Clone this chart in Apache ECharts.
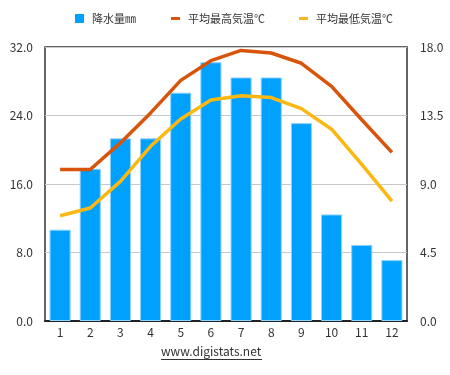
<!DOCTYPE html>
<html>
<head>
<meta charset="utf-8">
<script src="https://cdn.jsdelivr.net/npm/echarts@6/dist/echarts.min.js"></script>
<style>
html,body{margin:0;padding:0;background:#fff;}
#chart{width:450px;height:375px;}
</style>
</head>
<body>
<div id="chart"></div>
<script>
const months = ['1','2','3','4','5','6','7','8','9','10','11','12'];
const precipitation = [6.0, 10.0, 12.0, 12.0, 15.0, 17.0, 16.0, 16.0, 13.0, 7.0, 5.0, 4.0];
const maxTemp = [17.7, 17.7, 20.8, 24.3, 28.1, 30.4, 31.6, 31.3, 30.1, 27.4, 23.5, 19.7];
const minTemp = [12.3, 13.2, 16.3, 20.4, 23.6, 25.8, 26.3, 26.1, 24.8, 22.4, 18.3, 14.0];
const seriesNames = ['降水量㎜', '平均最高気温℃', '平均最低気温℃'];
const leftTicks = {min: 0, max: 32, interval: 8};
const rightTicks = {min: 0, max: 18, interval: 4.5};

const FONT = '"Noto Sans CJK JP", "Noto Sans", sans-serif';
const legendText = {fontSize: 11, color: '#333', fontFamily: FONT, padding: [0, 0, 0, 3]};
const chart = echarts.init(document.getElementById('chart'), null, {renderer: 'canvas'});
chart.setOption({
  animation: false,
  backgroundColor: '#ffffff',
  textStyle: {fontFamily: FONT},
  legend: [
    {
      top: 8, left: 70, itemWidth: 9, itemHeight: 9,
      textStyle: legendText,
      data: [{name: seriesNames[0], icon: 'rect', itemStyle: {borderWidth: 0, color: '#00a0ff'}}]
    },
    {
      top: 8, left: 166, itemWidth: 9, itemHeight: 3,
      textStyle: legendText,
      data: [{name: seriesNames[1], icon: 'rect', itemStyle: {borderWidth: 0, color: '#d9540b'}}]
    },
    {
      top: 8, left: 294, itemWidth: 9, itemHeight: 3,
      textStyle: legendText,
      data: [{name: seriesNames[2], icon: 'rect', itemStyle: {borderWidth: 0, color: '#fbb813'}}]
    }
  ],
  grid: {
    left: 45, right: 43, top: 47, bottom: 54,
    show: true, borderColor: '#333', borderWidth: 1.5, backgroundColor: 'transparent'
  },
  xAxis: {
    type: 'category',
    data: months,
    boundaryGap: true,
    axisLine: {show: true, lineStyle: {color: '#222', width: 2}},
    axisTick: {show: false},
    axisLabel: {color: '#333', fontSize: 12, margin: 5, fontFamily: FONT}
  },
  yAxis: [
    {
      type: 'value', min: leftTicks.min, max: leftTicks.max, interval: leftTicks.interval,
      axisLine: {show: false}, axisTick: {show: false},
      axisLabel: {color: '#333', fontSize: 12, margin: 12, fontFamily: FONT,
        formatter: v => v.toFixed(1)},
      splitLine: {show: true, lineStyle: {color: '#c8c8c8', width: 1}}
    },
    {
      type: 'value', min: rightTicks.min, max: rightTicks.max, interval: rightTicks.interval,
      position: 'right',
      axisLine: {show: false}, axisTick: {show: false},
      axisLabel: {color: '#333', fontSize: 12, margin: 13, fontFamily: FONT,
        formatter: v => v.toFixed(1)},
      splitLine: {show: false}
    }
  ],
  series: [
    {
      name: seriesNames[0], type: 'bar', yAxisIndex: 1, data: precipitation,
      barWidth: '70%',
      itemStyle: {color: '#00a0ff', borderColor: '#8fd3ff', borderWidth: 1}
    },
    {
      name: seriesNames[1], type: 'line', yAxisIndex: 0, data: maxTemp,
      symbol: 'none', showSymbol: false,
      itemStyle: {color: '#d9540b'},
      lineStyle: {color: '#d9540b', width: 3.5}
    },
    {
      name: seriesNames[2], type: 'line', yAxisIndex: 0, data: minTemp,
      symbol: 'none', showSymbol: false,
      itemStyle: {color: '#fbb813'},
      lineStyle: {color: '#fbb813', width: 3.5}
    }
  ],
  graphic: [
    {
      type: 'text', left: 161, top: 345,
      style: {text: 'www.digistats.net', fill: '#333', font: '12px ' + FONT}
    },
    {
      type: 'rect', shape: {x: 161, y: 359, width: 101, height: 1},
      style: {fill: '#333'}
    }
  ]
});
</script>
</body>
</html>
